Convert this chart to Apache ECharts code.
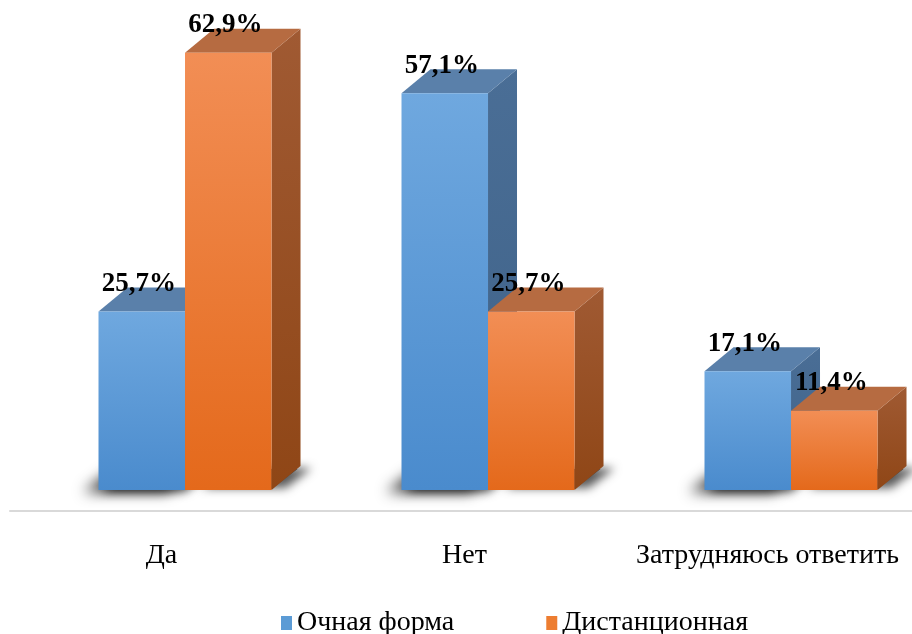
<!DOCTYPE html>
<html>
<head>
<meta charset="utf-8">
<script src="https://cdn.jsdelivr.net/npm/echarts@6/dist/echarts.min.js"></script>
<style>
  html, body { margin: 0; padding: 0; background: #ffffff; }
  #chart { width: 912px; height: 634px; }
</style>
</head>
<body>
<div id="chart"></div>
<script>
// Survey answers by form of study, percent
const categories = ['Да', 'Нет', 'Затрудняюсь ответить'];
const seriesNames = ['Очная форма', 'Дистанционная'];
const fullTime = [25.7, 57.1, 17.1];
const distance = [62.9, 25.7, 11.4];

// Face colours for the two 3D bar sets
const palette = [
  { legend: '#5b9bd5', frontTop: '#6fa8df', frontBottom: '#4a8bcd', top: '#5a80aa', sideTop: '#4a6e96', sideBottom: '#3f6288' },
  { legend: '#ed7d31', frontTop: '#f28e55', frontBottom: '#e4691b', top: '#b66b41', sideTop: '#a05a33', sideBottom: '#8f4616' }
];

function fmt(v) {
  return v.toFixed(1).replace('.', ',') + '%';
}

function makeRenderer(idx) {
  const c = palette[idx];
  return function (params, api) {
    const cat = api.value(0);
    const val = api.value(1);
    const base = api.coord([cat, 0]);
    const top = api.coord([cat, val]);
    const band = api.size([1, 0])[0];
    const w = band * 0.2855;
    const split = base[0] + band * 0.0776;
    const x0 = idx === 0 ? split - w : split;
    const x1 = x0 + w;
    const yb = base[1];
    const yt = top[1];
    const dx = 29, dy = 24;
    const children = [];
    // floor shadow: shapes sit under the faces, only their blurred shadows show
    const foot = [[x0 + 3, yb - 1], [x1, yb - 1], [x1 + dx - 3, yb - dy + 3], [x0 + dx, yb - dy + 3]];
    if (idx === 0) {
      children.push({
        type: 'polygon', silent: true,
        shape: { points: foot },
        style: { fill: '#444', shadowBlur: 14, shadowColor: 'rgba(0,0,0,0.8)', shadowOffsetX: -18, shadowOffsetY: 3 }
      });
    }
    children.push({
      type: 'polygon', silent: true,
      shape: { points: foot },
      style: { fill: '#444', shadowBlur: 10, shadowColor: 'rgba(0,0,0,0.65)', shadowOffsetX: idx === 1 ? 14 : 0, shadowOffsetY: idx === 1 ? -1 : 3 }
    });
    // side face
    children.push({
      type: 'polygon',
      shape: { points: [[x1, yb], [x1, yt], [x1 + dx, yt - dy], [x1 + dx, yb - dy]] },
      style: {
        fill: new echarts.graphic.LinearGradient(0, 0, 0, 1, [
          { offset: 0, color: c.sideTop }, { offset: 1, color: c.sideBottom }
        ])
      }
    });
    // top face
    children.push({
      type: 'polygon',
      shape: { points: [[x0, yt], [x1, yt], [x1 + dx, yt - dy], [x0 + dx, yt - dy]] },
      style: { fill: c.top }
    });
    // front face
    children.push({
      type: 'rect',
      shape: { x: x0, y: yt, width: w, height: yb - yt },
      style: {
        fill: new echarts.graphic.LinearGradient(0, 0, 0, 1, [
          { offset: 0, color: c.frontTop }, { offset: 1, color: c.frontBottom }
        ])
      }
    });
    // value label
    children.push({
      type: 'text',
      x: (x0 + x1) / 2 - 3,
      y: yt - 14,
      z2: 10,
      style: {
        text: fmt(val),
        fill: '#000',
        font: 'bold 27px "Liberation Serif", "DejaVu Serif", serif',
        align: 'center',
        verticalAlign: 'bottom'
      }
    });
    return { type: 'group', children: children };
  };
}

const chart = echarts.init(document.getElementById('chart'), null, { renderer: 'canvas' });

chart.setOption({
  animation: false,
  backgroundColor: '#ffffff',
  grid: { left: 10, width: 909, top: 3.5, bottom: 144, outerBoundsMode: 'none', containLabel: false },
  legend: {
    data: [
      { name: seriesNames[0], itemStyle: { color: palette[0].legend } },
      { name: seriesNames[1], itemStyle: { color: palette[1].legend } }
    ],
    left: 276,
    top: 604,
    icon: 'rect',
    itemWidth: 11,
    itemHeight: 14,
    itemGap: 92,
    textStyle: { fontFamily: '"Liberation Serif", serif', fontSize: 28, color: '#000', padding: [0, 0, 0, 0] }
  },
  xAxis: {
    type: 'category',
    data: categories,
    offset: 21,
    axisLine: { show: true, onZero: false, lineStyle: { color: '#d9d9d9', width: 2 } },
    axisTick: { show: false },
    axisLabel: { interval: 0, margin: 31, fontFamily: '"Liberation Serif", serif', fontSize: 28, color: '#000' },
    splitLine: { show: false }
  },
  yAxis: {
    type: 'value',
    min: 0,
    max: 70,
    show: false
  },
  series: [
    {
      name: seriesNames[0],
      type: 'custom',
      itemStyle: { color: palette[0].legend },
      renderItem: makeRenderer(0),
      data: fullTime.map((v, i) => [i, v]),
      z: 2
    },
    {
      name: seriesNames[1],
      type: 'custom',
      itemStyle: { color: palette[1].legend },
      renderItem: makeRenderer(1),
      data: distance.map((v, i) => [i, v]),
      z: 3
    }
  ]
});
</script>
</body>
</html>
